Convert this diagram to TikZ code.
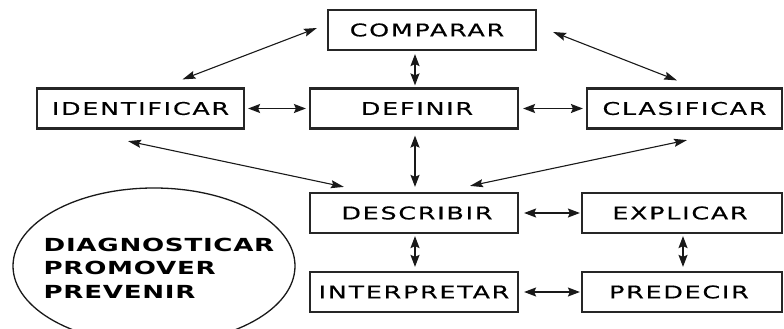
\documentclass[tikz,border=0pt]{standalone}
\usepackage{fontspec}
\setmainfont{DejaVu Sans}
\newfontfamily\boxfont[LetterSpace=10,FakeStretch=1.45,FakeBold=0.4]{DejaVu Sans}
\newfontfamily\ellfont[LetterSpace=4,FakeStretch=1.45]{DejaVu Sans}
\newcommand\tshift[2]{\kern#1pt#2\kern-#1pt}
\usetikzlibrary{arrows.meta,shapes.geometric,calc}
\begin{document}
\begin{tikzpicture}[x=1pt,y=-1pt,
 box/.style={draw=black!85, line width=2.2pt, minimum height=40pt, inner sep=0pt,
   font=\boxfont\fontsize{17.5}{20}\selectfont},
 arr/.style={line width=1.5pt, draw=black!90,
   {Stealth[length=12pt,width=9pt,inset=2pt]}-{Stealth[length=12pt,width=9pt,inset=2pt]}},
 darr/.style={line width=1.1pt, draw=black!90,
   {Stealth[length=13pt,width=8pt,inset=2pt]}-{Stealth[length=13pt,width=8pt,inset=2pt]}}]
\useasboundingbox[fill=white] (0,0) rectangle (784,329);

\node[box, minimum width=208pt] (cmp) at (432,30) {\tshift{-5}{COMPARAR}};
\node[box, minimum width=207pt] (idf) at (140.5,108.5) {IDENTIFICAR};
\node[box, minimum width=208pt] (def) at (414,108.5) {\tshift{3}{DEFINIR}};
\node[box, minimum width=195pt] (cla) at (684.5,108.5) {CLASIFICAR};
\node[box, minimum width=208pt] (des) at (414,213) {\tshift{3}{DESCRIBIR}};
\node[box, minimum width=200pt] (exp) at (682,213) {\tshift{-2}{EXPLICAR}};
\node[box, minimum width=208pt] (int) at (414,292) {INTERPRETAR};
\node[box, minimum width=200pt] (pre) at (682,292) {\tshift{-3}{PREDECIR}};

\node[ellipse, draw=black!90, line width=1.3pt, minimum width=282pt, minimum height=156pt, inner sep=0pt] (ell) at (154,266) {};
\node[align=left, inner sep=0pt, font=\ellfont\bfseries\fontsize{18}{23.5}\selectfont] (diag) at (159,268)
  {DIAGNOSTICAR\\PROMOVER\\PREVENIR};

\draw[darr] ($(cmp.west)+(-10,-2)$) -- ($(idf.north)+(42,-8)$);
\draw[arr]  ($(cmp.south)+(-17,3)$) -- ($(def.north)+(1,-2)$);
\draw[darr] ($(cmp.east)+(16,2)$) -- ($(cla.north)+(-7.5,-7)$);
\draw[arr]  ($(idf.east)+(3,0)$) -- ($(def.west)+(-3,0)$);
\draw[arr]  ($(def.east)+(4,0)$) -- ($(cla.west)+(-3,0)$);
\draw[darr] ($(idf.south)+(-12.5,11.5)$) -- ($(des.north west)+(35,-5)$);
\draw[arr]  ($(def.south)+(1,6)$) -- ($(des.north)+(1,-5)$);
\draw[darr] ($(des.north)+(56,-6)$) -- ($(cla.south)+(2.5,10.5)$);
\draw[arr]  ($(des.east)+(5,0)$) -- ($(exp.west)+(-1,0)$);
\draw[arr]  ($(des.south)+(1,2)$) -- ($(int.north)+(1,-4)$);
\draw[arr]  ($(exp.south)+(1,2)$) -- ($(pre.north)+(1,-4)$);
\draw[arr]  ($(int.east)+(5,0)$) -- ($(pre.west)+(-1,0)$);
\end{tikzpicture}
\end{document}
